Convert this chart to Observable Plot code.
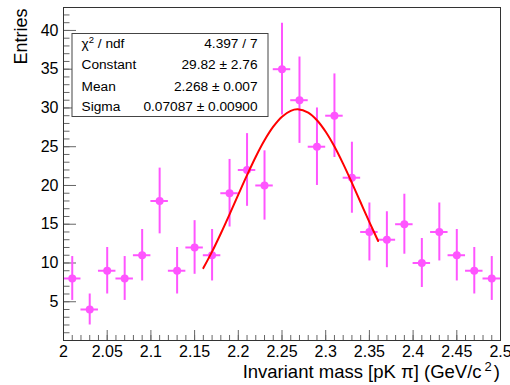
<!DOCTYPE html>
<html>
<head>
<meta charset="utf-8">
<script src="https://cdn.jsdelivr.net/npm/d3@7"></script>
<script src="https://cdn.jsdelivr.net/npm/@observablehq/plot@0.6"></script>
<style>
  html, body { margin: 0; padding: 0; background: #fff; }
  svg { display: block; }
</style>
</head>
<body>
<div id="chart"></div>
<script>
// ---- data ----
const binCenters = [2.01, 2.03, 2.05, 2.07, 2.09, 2.11, 2.13, 2.15, 2.17, 2.19, 2.21, 2.23, 2.25,
                    2.27, 2.29, 2.31, 2.33, 2.35, 2.37, 2.39, 2.41, 2.43, 2.45, 2.47, 2.49];
const counts = [8, 4, 9, 8, 11, 18, 9, 12, 11, 19, 22, 20, 35, 31, 25, 29, 21, 14, 13, 15, 10, 14, 11, 9, 8];
const errors = [2.83, 2.00, 3.00, 2.83, 3.32, 4.24, 3.00, 3.46, 3.32, 4.36, 4.69, 4.47, 5.92,
                5.57, 5.00, 5.39, 4.58, 3.74, 3.61, 3.87, 3.16, 3.74, 3.32, 3.00, 2.83];
const binHalfWidth = 0.01;

// fitted Gaussian curve (sampled along the red line)
const fitX = [2.16, 2.17, 2.18, 2.19, 2.20, 2.21, 2.22, 2.23, 2.24, 2.25, 2.26, 2.268, 2.28,
              2.29, 2.30, 2.31, 2.32, 2.33, 2.34, 2.35, 2.36];
const fitY = [9.34, 11.46, 13.80, 16.27, 18.82, 21.33, 23.71, 25.83, 27.58, 28.87, 29.63, 29.82, 29.40,
              28.42, 26.93, 25.02, 22.78, 20.34, 17.80, 15.27, 12.84];

// axis ticks
const xMajor = [2, 2.05, 2.1, 2.15, 2.2, 2.25, 2.3, 2.35, 2.4, 2.45, 2.5];
const xMinor = d3.range(0, 51).map(i => +(2 + i * 0.01).toFixed(2));
const yMajor = [5, 10, 15, 20, 25, 30, 35, 40];
const yMinor = d3.range(0, 43);

// stats box
const statNames = ["χ", "Constant", "Mean", "Sigma"];
const statValues = ["4.397 / 7", "29.82 ± 2.76", "2.268 ± 0.007", "0.07087 ± 0.00900"];

const xTitle = "Invariant mass [pK π] (GeV/c";
const yTitle = "Entries";

const points = binCenters.map((x, i) => ({x, y: counts[i], err: errors[i]}));
const fit = fitX.map((x, i) => ({x, y: fitY[i]}));

const magenta = "#ff55ff";
const tickColor = "#666";
const fmt = d => String(+d.toFixed(2));

const chart = Plot.plot({
  width: 510,
  height: 385,
  marginLeft: 63,
  marginRight: 10,
  marginTop: 7,
  marginBottom: 45,
  x: {domain: [2, 2.5]},
  y: {domain: [0, 42.96]},
  style: {fontFamily: "'Liberation Sans', Arial, sans-serif", background: "#fff", color: "#000", overflow: "visible"},
  marks: [
    // ticks (inside the frame)
    Plot.axisX(xMinor, {anchor: "bottom", tickSize: -5, tickFormat: () => "", stroke: tickColor, label: null}),
    Plot.axisX(xMajor, {anchor: "bottom", tickSize: -10, tickFormat: () => "", stroke: tickColor, label: null}),
    Plot.axisY(yMinor, {anchor: "left", tickSize: -6.5, tickFormat: () => "", stroke: tickColor, label: null}),
    Plot.axisY(yMajor, {anchor: "left", tickSize: -13, tickFormat: () => "", stroke: tickColor, label: null}),
    // tick labels
    Plot.axisX(xMajor, {anchor: "bottom", tickSize: 0, tickPadding: 5, tickFormat: fmt, fontSize: 16, fill: "#000", label: null}),
    Plot.axisY(yMajor, {anchor: "left", tickSize: 0, tickPadding: 5, tickFormat: fmt, fontSize: 16, fill: "#000", label: null}),
    // data with error bars
    Plot.ruleX(points, {x: "x", y1: d => d.y - d.err, y2: d => d.y + d.err, stroke: magenta, strokeWidth: 2}),
    Plot.ruleY(points, {y: "y", x1: d => d.x - binHalfWidth, x2: d => d.x + binHalfWidth, stroke: magenta, strokeWidth: 2}),
    Plot.dot(points, {x: "x", y: "y", r: 4, fill: magenta, stroke: null}),
    // fit
    Plot.line(fit, {x: "x", y: "y", stroke: "#ff0000", strokeWidth: 2, curve: "catmull-rom"}),
    Plot.frame({stroke: "#333", strokeWidth: 1})
  ]
});

document.getElementById("chart").appendChild(chart);

const svg = d3.select(chart);
const font = "'Liberation Sans', Arial, sans-serif";

// stats box
const box = svg.append("g").attr("font-family", font).attr("font-size", 13.7).attr("fill", "#000")
  .attr("text-anchor", "start");
box.append("rect").attr("x", 72).attr("y", 33.5).attr("width", 196).attr("height", 83)
  .attr("fill", "#fff").attr("stroke", "#444").attr("stroke-width", 1);
const baselines = [48.3, 69.2, 90.7, 110.5];
statNames.forEach((name, i) => {
  const t = box.append("text").attr("x", 81.5).attr("y", baselines[i]).attr("text-anchor", "start");
  if (i === 0) {
    t.append("tspan").text(name);
    t.append("tspan").attr("dy", -5).attr("font-size", 9.5).text("2");
    t.append("tspan").attr("dy", 5).text(" / ndf");
  } else {
    t.text(name);
  }
  box.append("text").attr("x", 257.5).attr("y", baselines[i]).attr("text-anchor", "end").text(statValues[i]);
});

// axis titles
const xt = svg.append("text").attr("font-family", font).attr("font-size", 18.5).attr("fill", "#000")
  .attr("x", 500).attr("y", 378).attr("text-anchor", "end");
xt.append("tspan").text(xTitle);
xt.append("tspan").attr("dx", 3).attr("dy", -7).attr("font-size", 13).text("2");
xt.append("tspan").attr("dx", 2).attr("dy", 7).text(")");

svg.append("text").attr("font-family", font).attr("font-size", 18).attr("fill", "#000")
  .attr("transform", "translate(27.3,8.5) rotate(-90)").attr("text-anchor", "end").text(yTitle);
</script>
</body>
</html>
